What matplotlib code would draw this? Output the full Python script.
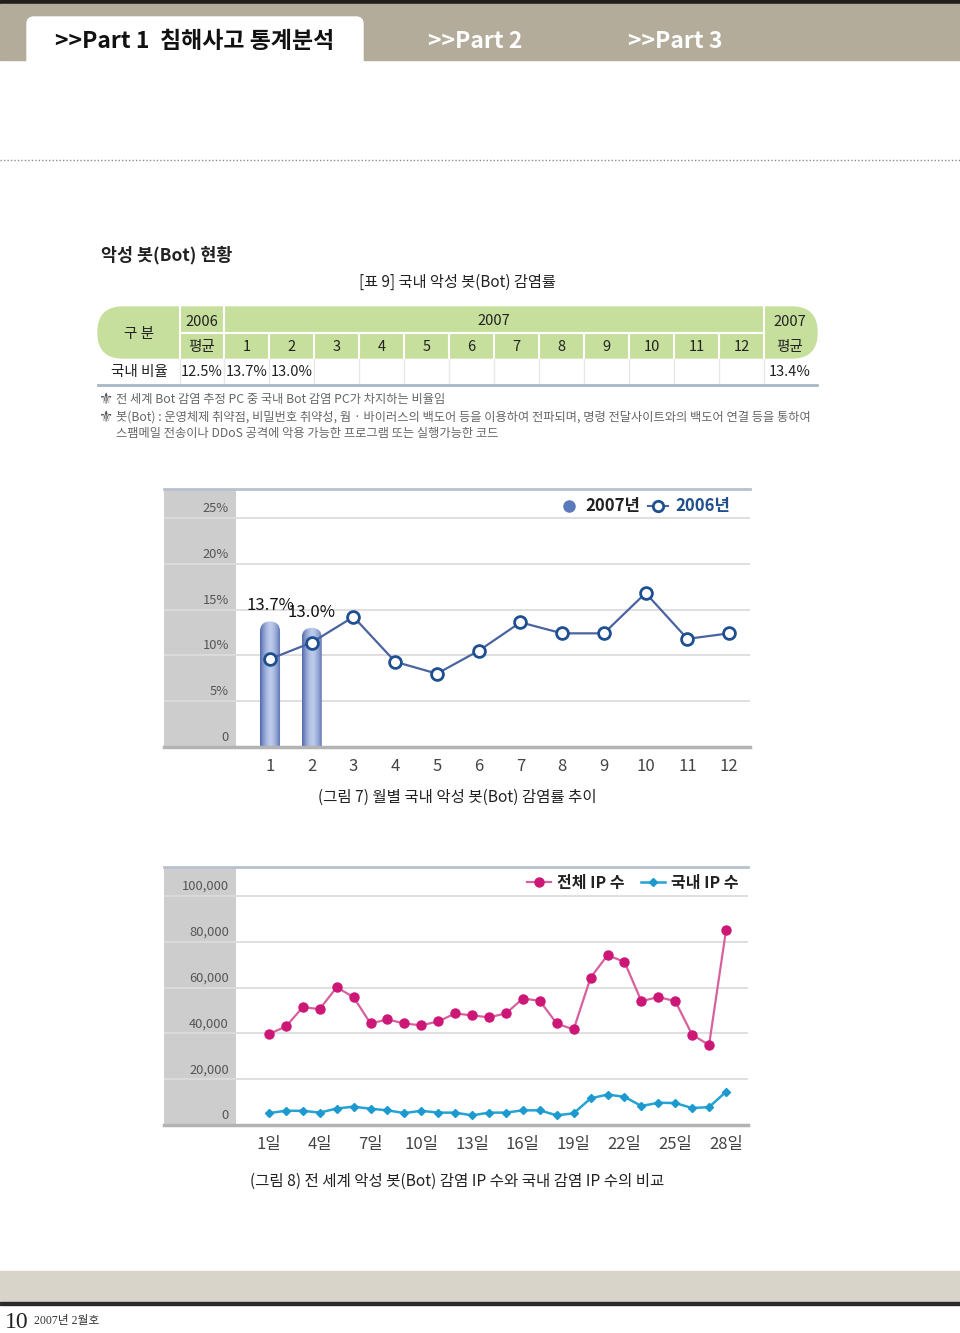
import numpy as np
import matplotlib.pyplot as plt
from matplotlib.patches import Rectangle, FancyBboxPatch
from matplotlib.lines import Line2D
from matplotlib.colors import to_rgb

plt.rcParams['font.family'] = ['Noto Sans CJK KR', 'DejaVu Sans']

W, H = 960, 1333

# [표 9] / (그림 7) monthly bot infection rate
months = list(range(1, 13))
rate_2006 = [9.6, 11.4, 14.2, 9.3, 8.0, 10.5, 13.6, 12.4, 12.4, 16.8, 11.8, 12.4]
rate_2007 = [13.7, 13.0]
avg_2006 = 12.5
avg_2007 = 13.4
rate_ticks = [0, 5, 10, 15, 20, 25]
rate_tick_labels = ['0', '5%', '10%', '15%', '20%', '25%']

# (그림 8) infected IP counts per day
days = list(range(1, 29))
total_ip = [39700, 43000, 51400, 50600, 60100, 55800, 44300, 46100, 44300, 43500,
            45200, 48700, 47800, 47000, 48700, 55200, 54200, 44300, 41700, 64300,
            74100, 71200, 54100, 55800, 54100, 39400, 34900, 84900]
domestic_ip = [5200, 6200, 6200, 5400, 7200, 8000, 7100, 6400, 5200, 6200,
               5400, 5400, 4200, 5400, 5400, 6400, 6400, 4200, 5100, 11600,
               13300, 12300, 8300, 9700, 9600, 7400, 7800, 14500]
ip_ticks = [0, 20000, 40000, 60000, 80000, 100000]
ip_tick_labels = ['0', '20,000', '40,000', '60,000', '80,000', '100,000']
day_ticks = [1, 4, 7, 10, 13, 16, 19, 22, 25, 28]

fig = plt.figure(figsize=(9.6, 13.33), dpi=100)


def px_axes(x0, y0, x1, y1):
    return fig.add_axes([x0 / W, 1 - y1 / H, (x1 - x0) / W, (y1 - y0) / H])


# page background in pixel coordinates
bg = px_axes(0, 0, W, H)
bg.set_xlim(0, W)
bg.set_ylim(H, 0)
bg.axis('off')

# header band with tabs
bg.add_patch(Rectangle((0, 0), W, 4, color='#231f1c'))
bg.add_patch(Rectangle((0, 4), W, 56, color='#b4ac9b'))
bg.add_patch(FancyBboxPatch((27, 17), 336, 60, boxstyle='round,pad=0,rounding_size=7',
                            color='white'))
bg.text(55, 41, '>>Part 1  침해사고 통계분석', fontsize=16.5, fontweight='bold',
        va='center', color='#111')
bg.text(428, 41, '>>Part 2', fontsize=16.5, fontweight='bold', va='center', color='white')
bg.text(628, 41, '>>Part 3', fontsize=16.5, fontweight='bold', va='center', color='white')
bg.plot([0, W], [160, 160], ls=(0, (1, 1.5)), color='#8c8c8c', lw=1)

# section title and table caption
bg.text(101, 255, '악성 봇(Bot) 현황', fontsize=12.5, fontweight='bold', va='center', color='#222')
bg.text(457, 282, '[표 9] 국내 악성 봇(Bot) 감염률', fontsize=11, ha='center', va='center',
        color='#222')

# table
green = '#c6df9c'
col_edges = [98, 180, 224] + [224 + 45 * i for i in range(1, 13)] + [817]
bg.add_patch(FancyBboxPatch((98, 307), 719, 51, boxstyle='round,pad=0,rounding_size=25',
                            color=green))
for x in [180, 224, 764]:
    bg.plot([x, x], [307, 358], color='white', lw=1.5)
for x in col_edges[3:-2]:
    bg.plot([x, x], [333, 358], color='white', lw=1.5)
bg.plot([180, 764], [333, 333], color='white', lw=1.5)
for x in col_edges[1:-1]:
    bg.plot([x, x], [359, 384], color='#e8e8e8', lw=1)
bg.plot([98, 817], [385, 385], color='#a9b6c8', lw=2)

tkw = dict(fontsize=10.5, ha='center', va='center', color='#222')
bg.text(139, 334, '구 분', **tkw)
bg.text(202, 322, '2006', **tkw)
bg.text(202, 347, '평균', **tkw)
bg.text(494, 321, '2007', **tkw)
bg.text(790, 322, '2007', **tkw)
bg.text(790, 347, '평균', **tkw)
for i, m in enumerate(months):
    cx = (col_edges[2 + i] + col_edges[3 + i]) / 2
    bg.text(cx, 347, str(m), **tkw)
bg.text(139, 372, '국내 비율', **tkw)
bg.text(202, 372, f'{avg_2006:.1f}%', **tkw)
for i, v in enumerate(rate_2007):
    cx = (col_edges[2 + i] + col_edges[3 + i]) / 2
    bg.text(cx, 372, f'{v:.1f}%', **tkw)
bg.text(790, 372, f'{avg_2007:.1f}%', **tkw)

# notes
nkw = dict(fontsize=8.8, va='center', color='#666')
skw = dict(fontsize=11.5, va='center', color='#555', family='DejaVu Sans')
bg.text(99, 400, '⚜', **skw)
bg.text(116, 400, '전 세계 Bot 감염 추정 PC 중 국내 Bot 감염 PC가 차지하는 비율임', **nkw)
bg.text(99, 417, '⚜', **skw)
bg.text(116, 417, '봇(Bot) : 운영체제 취약점, 비밀번호 취약성, 웜 · 바이러스의 백도어 등을 이용하여 '
        '전파되며, 명령 전달사이트와의 백도어 연결 등을 통하여', **nkw)
bg.text(116, 434, '스팸메일 전송이나 DDoS 공격에 악용 가능한 프로그램 또는 실행가능한 코드', **nkw)


def frame(ax, grey_right):
    ax.axvspan(ax.get_xlim()[0], grey_right, color='#cdcdcd', zorder=0, lw=0)
    ax.spines[['left', 'right']].set_visible(False)
    ax.spines['top'].set_color('#b7c2ce')
    ax.spines['top'].set_linewidth(2)
    ax.spines['bottom'].set_color('#b3b3b3')
    ax.spines['bottom'].set_linewidth(2.5)
    ax.set_yticks([])
    ax.tick_params(axis='x', length=0, pad=8, labelsize=12, labelcolor='#444')


# (그림 7)
ax1 = px_axes(164, 489, 750, 747)
ax1.set_xlim(-1.54, 12.5)
ax1.set_ylim(0, 28.15)
frame(ax1, 0.185)
for t, lab in zip(rate_ticks, rate_tick_labels):
    if t:
        ax1.axhline(t, color='#dcdcdc', lw=1.3, zorder=1)
    ax1.annotate(lab, xy=(0.185, t), xytext=(-7, 3), textcoords='offset pixels',
                 ha='right', va='bottom', fontsize=9.3, color='#555')
ax1.set_xticks(months)
ax1.set_xticklabels([str(m) for m in months])

bars = ax1.bar(months[:len(rate_2007)], rate_2007, width=0.48, color='none', lw=0)
dark, light = np.array(to_rgb('#5169ad')), np.array(to_rgb('#bccbeb'))
prof = 1 - np.abs(np.linspace(-1, 1, 64)) ** 1.6
grad = dark + (light - dark) * prof[:, None]
for b, v in zip(bars, rate_2007):
    x0, w = b.get_x(), b.get_width()
    cap = FancyBboxPatch((x0, -3), w, v + 3, boxstyle=f'round,pad=0,rounding_size={w / 2}',
                         mutation_aspect=41.7 / 9.16, fc='none', ec='none',
                         transform=ax1.transData)
    ax1.add_patch(cap)
    im = ax1.imshow(grad[None, :, :], extent=[x0, x0 + w, 0, v], aspect='auto',
                    interpolation='bilinear', zorder=2)
    im.set_clip_path(cap)
    ax1.annotate(f'{v:.1f}%', xy=(b.get_x() + w / 2, v), xytext=(0, 7),
                 textcoords='offset pixels', ha='center', va='bottom', fontsize=12,
                 color='#111')
ax1.set_xlim(-1.54, 12.5)
ax1.set_ylim(0, 28.15)

ax1.plot(months, rate_2006, color='#4a64a0', lw=1.6, marker='o', ms=8.5, mfc='white',
         mec='#1d4f91', mew=2, zorder=4)
h07 = Line2D([], [], ls='none', marker='o', ms=8, mfc='#5b79bd', mec='#5b79bd')
h06 = Line2D([], [], color='#4a64a0', lw=1.5, marker='o', ms=7.5, mfc='white',
             mec='#1d4f91', mew=2)
ax1.legend([h07, h06], ['2007년', '2006년'], loc='upper right', bbox_to_anchor=(0.98, 1.0),
           ncol=2, frameon=False, borderpad=0, handlelength=1.2, handletextpad=0.4,
           columnspacing=0.5, prop={'size': 12, 'weight': 'bold'},
           labelcolor=['#222', '#1f4e8c'])
bg.text(457, 797, '(그림 7) 월별 국내 악성 봇(Bot) 감염률 추이', fontsize=11.2, ha='center',
        va='center', color='#222')

# (그림 8)
ax2 = px_axes(164, 867, 748, 1125)
ax2.set_xlim(-5.2, 29.3)
ax2.set_ylim(0, 112600)
frame(ax2, -0.95)
for t, lab in zip(ip_ticks, ip_tick_labels):
    if t:
        ax2.axhline(t, color='#dcdcdc', lw=1.3, zorder=1)
    ax2.annotate(lab, xy=(-0.95, t), xytext=(-7, 3), textcoords='offset pixels',
                 ha='right', va='bottom', fontsize=9.3, color='#555')
ax2.set_xticks(day_ticks)
ax2.set_xticklabels([f'{d}일' for d in day_ticks])

ax2.plot(days, total_ip, color='#d8609e', lw=1.6, marker='o', ms=6.5, mfc='#cc1777',
         mec='#cc1777', zorder=3)
ax2.plot(days, domestic_ip, color='#24a3d4', lw=1.8, marker='D', ms=4.5, mfc='#1c9ad0',
         mec='#1c9ad0', zorder=3)
ht = Line2D([], [], color='#d8609e', lw=1.6, marker='o', ms=6.5, mfc='#cc1777', mec='#cc1777')
hd = Line2D([], [], color='#24a3d4', lw=1.8, marker='D', ms=4.5, mfc='#1c9ad0', mec='#1c9ad0')
ax2.legend([ht, hd], ['전체 IP 수', '국내 IP 수'], loc='upper right',
           bbox_to_anchor=(0.998, 1.0), ncol=2, frameon=False, borderpad=0,
           handlelength=1.5, handletextpad=0.4, columnspacing=1.0,
           prop={'size': 11.5, 'weight': 'bold'}, labelcolor='#222')
bg.text(457, 1181, '(그림 8) 전 세계 악성 봇(Bot) 감염 IP 수와 국내 감염 IP 수의 비교',
        fontsize=11.2, ha='center', va='center', color='#222')

# footer
bg.add_patch(Rectangle((0, 1271), W, 31, color='#d9d4c9'))
bg.add_patch(Rectangle((0, 1302), W, 3, color='#2a2a2a'))
bg.text(5, 1323, '10', fontsize=17, family='Liberation Serif', va='center', color='#222')
bg.text(34, 1321, '2007년 2월호', fontsize=8.5, family=['Liberation Serif', 'Noto Sans CJK KR'],
        va='center', color='#333')

fig.savefig('out.png', dpi=100)
